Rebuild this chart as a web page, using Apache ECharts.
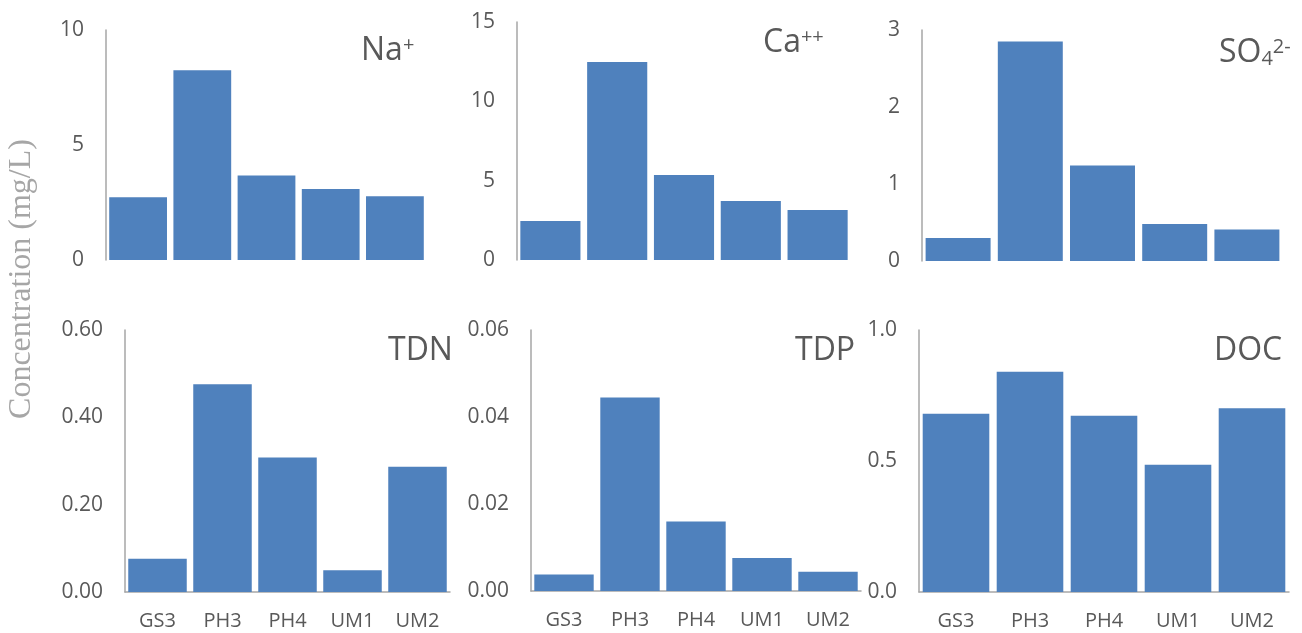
<!DOCTYPE html>
<html><head><meta charset="utf-8">
<script src="https://cdn.jsdelivr.net/npm/echarts@6/dist/echarts.min.js"></script>
<style>html,body{margin:0;padding:0;background:#fff}#c{width:1302px;height:633px}</style>
</head><body><div id="c"></div>
<script>
const categories = ['GS3', 'PH3', 'PH4', 'UM1', 'UM2'];
const naValues  = [2.73, 8.25, 3.67, 3.09, 2.77];
const caValues  = [2.46, 12.48, 5.36, 3.72, 3.15];
const so4Values = [0.30, 2.85, 1.24, 0.48, 0.41];
const tdnValues = [0.076, 0.476, 0.308, 0.050, 0.287];
const tdpValues = [0.0038, 0.0445, 0.0160, 0.0076, 0.0044];
const docValues = [0.680, 0.841, 0.673, 0.486, 0.701];
const yMax      = [10, 15, 3, 0.6, 0.06, 1.0];
const yInterval = [5, 5, 1, 0.2, 0.02, 0.5];
const yDecimals = [0, 0, 0, 2, 2, 1];
const panelTitles = ['{m|Na}{sup|+}', '{m|Ca}{sup|++}', '{m|SO}{sub|4}{sup|2-}', '{m|TDN}', '{m|TDP}', '{m|DOC}'];
const yAxisTitle = 'Concentration (mg/L)';

const seriesValues = [naValues, caValues, so4Values, tdnValues, tdpValues, docValues];

// layout (px)
const grids = [
  {left: 106, top: 30,  width: 321, height: 230},
  {left: 517, top: 22,  width: 334, height: 238},
  {left: 922, top: 30,  width: 361, height: 231},
  {left: 125, top: 330, width: 325, height: 262},
  {left: 531, top: 330, width: 330, height: 261},
  {left: 919, top: 330, width: 370, height: 262}
];
const titlePos = [
  {left: 361, top: 35},
  {left: 763, top: 27},
  {left: 1219, top: 37},
  {left: 388, top: 335},
  {left: 795, top: 335},
  {left: 1214, top: 335}
];

const textColor = '#595959';
const axisColor = '#a6a6a6';
const barColor = '#4F81BD';
const font = 'Open Sans';

const chart = echarts.init(document.getElementById('c'), null, {renderer: 'canvas'});

const option = {
  animation: false,
  backgroundColor: '#ffffff',
  title: panelTitles.map((t, i) => ({
    text: t,
    left: titlePos[i].left,
    top: titlePos[i].top,
    padding: 0,
    textStyle: {
      fontWeight: 'normal',
      fontFamily: font,
      rich: {
        m:   {fontFamily: font, fontWeight: 'normal', fontSize: 32, lineHeight: 32, color: textColor},
        sup: {fontFamily: font, fontWeight: 'normal', fontSize: 20, lineHeight: 20, color: textColor, verticalAlign: 'top'},
        sub: {fontFamily: font, fontWeight: 'normal', fontSize: 20, lineHeight: 10, color: textColor, verticalAlign: 'bottom'}
      }
    }
  })),
  grid: grids.map(g => Object.assign({containLabel: false}, g)),
  xAxis: grids.map((g, i) => ({
    type: 'category',
    gridIndex: i,
    data: categories,
    axisLine: {show: i >= 3, lineStyle: {color: axisColor, width: 1.5}},
    axisTick: {show: false},
    axisLabel: {show: i >= 3, color: textColor, fontFamily: font, fontSize: 20, margin: 19},
    splitLine: {show: false}
  })),
  yAxis: grids.map((g, i) => ({
    type: 'value',
    gridIndex: i,
    min: 0,
    max: yMax[i],
    interval: yInterval[i],
    axisLine: {show: true, lineStyle: {color: axisColor, width: 1.5}},
    axisTick: {show: false},
    splitLine: {show: false},
    axisLabel: {
      color: textColor, fontFamily: font, fontSize: 21, margin: 22,
      formatter: v => Number(v).toFixed(yDecimals[i])
    }
  })),
  series: seriesValues.map((vals, i) => ({
    type: 'bar',
    xAxisIndex: i,
    yAxisIndex: i,
    data: vals,
    barCategoryGap: '10%',
    itemStyle: {color: barColor},
    silent: true
  })),
  graphic: [{
    type: 'text',
    x: 22,
    y: 279,
    rotation: Math.PI / 2,
    style: {
      text: yAxisTitle,
      x: 0, y: 0,
      fontFamily: 'Liberation Serif',
      fontSize: 32,
      fill: '#a6a6a6',
      align: 'center',
      verticalAlign: 'middle',
      textAlign: 'center',
      textVerticalAlign: 'middle'
    }
  }]
};
chart.setOption(option);
</script>
</body></html>
